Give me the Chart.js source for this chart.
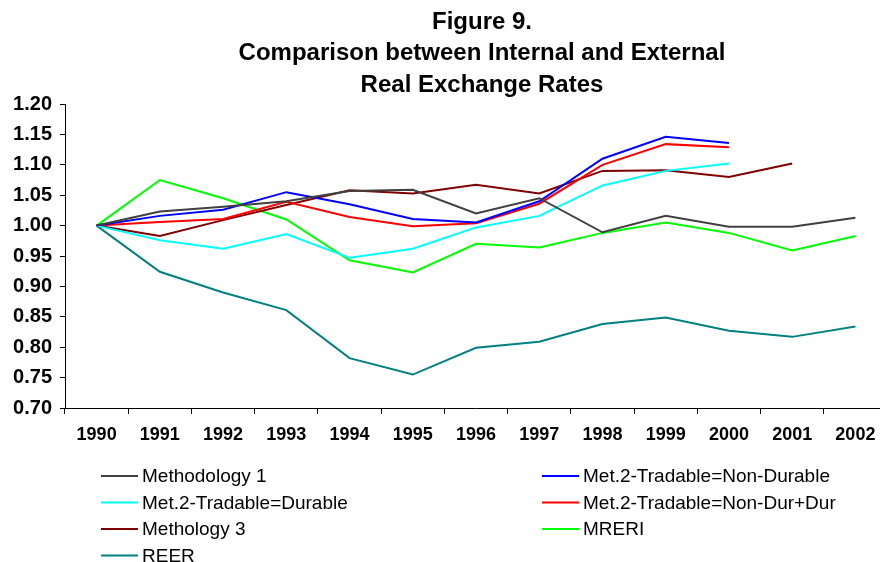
<!DOCTYPE html>
<html>
<head>
<meta charset="utf-8">
<script src="https://cdn.jsdelivr.net/npm/chart.js@4"></script>
<style>
  html, body { margin: 0; padding: 0; background: #fff; overflow: hidden; }
  #wrap { position: relative; width: 890px; height: 562px; }
</style>
</head>
<body>
<div id="wrap"><canvas id="chart"></canvas></div>
<script>
// Figure 9 - internal vs external real exchange rates (1990 = 1.00)

const years = ['1990', '1991', '1992', '1993', '1994', '1995', '1996',
               '1997', '1998', '1999', '2000', '2001', '2002'];

const titleLines = ['Figure 9.', 'Comparison between Internal and External', 'Real Exchange Rates'];

const methodology1 = [1.000, 1.023, 1.031, 1.040, 1.057, 1.059, 1.020, 1.045, 0.989, 1.016, 0.998, 0.998, 1.013];
const met2NonDurable = [1.000, 1.016, 1.026, 1.055, 1.035, 1.011, 1.005, 1.040, 1.110, 1.146, 1.136, null, null];
const met2Durable = [1.000, 0.976, 0.962, 0.986, 0.947, 0.962, 0.997, 1.016, 1.066, 1.090, 1.102, null, null];
const met2NonDurDur = [1.000, 1.006, 1.011, 1.039, 1.014, 0.999, 1.004, 1.036, 1.100, 1.134, 1.129, null, null];
const methology3 = [1.000, 0.983, 1.009, 1.034, 1.058, 1.053, 1.067, 1.053, 1.090, 1.091, 1.080, 1.102, null];
const mreri = [1.000, 1.075, 1.045, 1.010, 0.943, 0.923, 0.970, 0.964, 0.988, 1.005, 0.988, 0.959, 0.983];
const reer = [1.000, 0.924, 0.890, 0.861, 0.782, 0.755, 0.799, 0.809, 0.838, 0.849, 0.827, 0.817, 0.834];

const FONT = '"Liberation Sans", Arial, sans-serif';

function series(label, data, color) {
  return {
    label: label,
    data: data,
    borderColor: color,
    backgroundColor: color,
    borderWidth: 2,
    pointRadius: 0,
    tension: 0,
    fill: false
  };
}

// Title and the two-column legend are drawn by hand (Excel-style layout)
const titleLegendPlugin = {
  id: 'titleLegend',
  afterDraw(chart) {
    const ctx = chart.ctx;
    ctx.save();
    ctx.fillStyle = '#000';
    ctx.font = 'bold 24px ' + FONT;
    ctx.textAlign = 'center';
    ctx.textBaseline = 'middle';
    titleLines.forEach((t, i) => ctx.fillText(t, 482, 22 + i * 31.5));

    ctx.font = '19px ' + FONT;
    ctx.textAlign = 'left';
    chart.data.datasets.forEach((ds, i) => {
      const col = i % 2;
      const row = Math.floor(i / 2);
      const x = col === 0 ? 101 : 542;
      const y = 476 + row * 26.5;
      ctx.strokeStyle = ds.borderColor;
      ctx.lineWidth = 2;
      ctx.beginPath();
      ctx.moveTo(x, y);
      ctx.lineTo(x + 37, y);
      ctx.stroke();
      ctx.fillText(ds.label, x + 41, y + 1);
    });
    ctx.restore();
  }
};

const ctx = document.getElementById('chart').getContext('2d');
new Chart(ctx, {
  type: 'line',
  data: {
    labels: years,
    datasets: [
      series('Methodology 1', methodology1, '#404040'),
      series('Met.2-Tradable=Non-Durable', met2NonDurable, '#0000FF'),
      series('Met.2-Tradable=Durable', met2Durable, '#00FFFF'),
      series('Met.2-Tradable=Non-Dur+Dur', met2NonDurDur, '#FF0000'),
      series('Methology 3', methology3, '#800000'),
      series('MRERI', mreri, '#00FF00'),
      series('REER', reer, '#008080')
    ]
  },
  options: {
    responsive: true,
    maintainAspectRatio: false,
    animation: false,
    layout: { padding: { top: 104, left: 0, right: 3, bottom: 0 } },
    plugins: {
      legend: { display: false },
      title: { display: false },
      tooltip: { enabled: false }
    },
    scales: {
      x: {
        offset: true,
        grid: { offset: true, drawOnChartArea: false, drawTicks: true, tickLength: 6, color: '#000' },
        border: { color: '#000', width: 1 },
        ticks: { color: '#000', font: { family: FONT, size: 18, weight: 'bold' }, padding: 10, maxRotation: 0, autoSkip: false },
        afterFit(scale) { scale.height = 154; }
      },
      y: {
        min: 0.7,
        max: 1.2,
        grid: { drawOnChartArea: false, drawTicks: true, tickLength: 5, color: '#000' },
        border: { color: '#000', width: 1 },
        ticks: {
          stepSize: 0.05,
          color: '#000',
          font: { family: FONT, size: 20, weight: 'bold' },
          padding: 8,
          callback: v => Number(v).toFixed(2)
        },
        afterFit(scale) { scale.width = 65; }
      }
    }
  },
  plugins: [titleLegendPlugin]
});
</script>
</body>
</html>
